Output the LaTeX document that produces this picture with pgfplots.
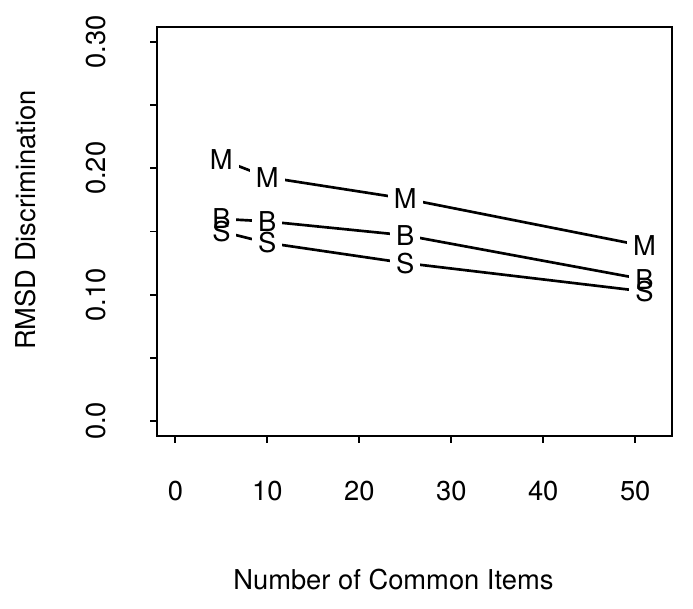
\documentclass[border=0pt]{standalone}
\usepackage{fontspec}
\setmainfont{TeX Gyre Heros}
\usepackage{pgfplots}
\usepackage{pgfplotstable}
\pgfplotsset{compat=1.18}
\pgfplotstableread{
x y
5 0.207
10 0.193
25 0.176
51 0.1385
}\Mdata
\pgfplotstableread{
x y
5 0.160
10 0.158
25 0.147
51 0.112
}\Bdata
\pgfplotstableread{
x y
5 0.150
10 0.141
25 0.125
51 0.1025
}\Sdata
\begin{document}
\begin{tikzpicture}[font=\fontsize{20.5}{24}\selectfont]
\begin{axis}[
  scale only axis, width=386.25pt, height=306.75pt,
  xmin=-2, xmax=54, ymin=-0.012, ymax=0.312,
  axis line style={line width=1.7pt},
  xtick={0,10,20,30,40,50},
  ytick={0,0.05,0.1,0.15,0.2,0.25,0.3},
  yticklabels={0.0,{},0.10,{},0.20,{},0.30},
  tick align=outside, major tick length=5pt,
  tick style={line width=1.4pt, black},
  xtick pos=left, ytick pos=left,
  /pgf/number format/assume math mode=true,
  xticklabel style={inner sep=0pt, anchor=north, yshift=-29pt},
  yticklabel style={inner sep=0pt, xshift=-33pt, rotate=90, anchor=south},
  xlabel={Number of Common Items}, ylabel={RMSD Discrimination},
  xlabel style={at={(axis description cs:0.459,-0.352)}, anchor=center},
  ylabel style={at={(axis description cs:-0.256,0.528)}, anchor=center, rotate=0},
]
\addplot[line width=2pt, black, mark=none, nodes near coords={\phantom{M}},
  every node near coord/.style={anchor=center, fill=white, inner xsep=4.5pt, inner ysep=1pt}] table {\Mdata};
\addplot[line width=2pt, black, mark=none, nodes near coords={\phantom{B}},
  every node near coord/.style={anchor=center, fill=white, inner xsep=4.5pt, inner ysep=1pt}] table {\Bdata};
\addplot[line width=2pt, black, mark=none, nodes near coords={\phantom{S}},
  every node near coord/.style={anchor=center, fill=white, inner xsep=4.5pt, inner ysep=1pt}] table {\Sdata};
\addplot[draw=none, mark=none, nodes near coords={M},
  every node near coord/.style={anchor=center, inner sep=0pt, text=black}] table {\Mdata};
\addplot[draw=none, mark=none, nodes near coords={B},
  every node near coord/.style={anchor=center, inner sep=0pt, text=black}] table {\Bdata};
\addplot[draw=none, mark=none, nodes near coords={S},
  every node near coord/.style={anchor=center, inner sep=0pt, text=black}] table {\Sdata};
\end{axis}
\pgfresetboundingbox
\path ([xshift=-117.75pt,yshift=-129.75pt]current axis.south west) rectangle ([xshift=15.75pt,yshift=20.25pt]current axis.north east);
\end{tikzpicture}
\end{document}
